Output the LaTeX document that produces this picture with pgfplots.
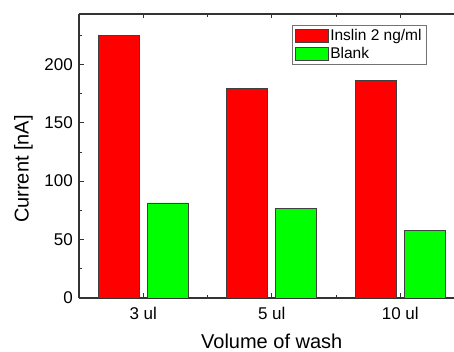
\documentclass[border=0pt]{standalone}
\usepackage{pgfplots}
\pgfplotsset{compat=1.18}
\usepackage{fontspec}
\setmainfont{Liberation Sans}
\begin{document}
\begin{tikzpicture}
\useasboundingbox (-79pt,-54pt) rectangle (375pt,298pt);
\begin{axis}[
  scale only axis, width=375pt, height=284pt,
  xmin=-0.5, xmax=2.418, ymin=0, ymax=243,
  axis y line*=left,
  ybar=8pt, bar width=41pt,
  xtick={0,1,2}, xticklabels={3 ul,5 ul,10 ul},
  minor xtick={0.5,1.5},
  ytick={0,50,100,150,200}, minor ytick={25,75,125,175,225},
  tick align=inside,
  major tick length=4.5pt, minor tick length=3pt,
  tick style={black!80, line width=0.8pt},
  axis line style={black!80, line width=1.2pt},
  /pgf/number format/assume math mode=true,
  ticklabel style={font=\fontsize{17}{20}\selectfont},
  yticklabel style={inner sep=0pt, anchor=east, xshift=-6pt},
  xticklabel style={inner sep=0pt, anchor=north, yshift=-9pt},
  xlabel={Volume of wash},
  ylabel={Current [nA]},
  label style={font=\fontsize{20}{24}\selectfont, inner sep=0pt},
  x label style={at={(axis description cs:0.514,-0.1268)}, anchor=north},
  y label style={at={(axis description cs:-0.1227,0.454)}, anchor=south, rotate=0},
  legend style={at={(axis description cs:0.568,0.961)}, anchor=north west,
    draw=black!55, fill=white, font=\fontsize{15.5}{18}\selectfont,
    inner xsep=2.5pt, inner ysep=2pt, row sep=1.5pt},
  legend cell align=left,
]
\addplot[fill=red, draw=black!75, line width=0.6pt,
  legend image code/.code={\draw[fill=red, draw=black!75, line width=0.6pt] (0pt,-6.5pt) rectangle (33pt,6.5pt);}]
  coordinates {(0,225) (1,179) (2,186)};
\addplot[fill=green, draw=black!75, line width=0.6pt,
  legend image code/.code={\draw[fill=green, draw=black!75, line width=0.6pt] (0pt,-6.5pt) rectangle (33pt,6.5pt);}]
  coordinates {(0,81.3) (1,76.5) (2,57.6)};
\legend{Inslin 2 ng/ml, Blank}
\end{axis}
\end{tikzpicture}
\end{document}
